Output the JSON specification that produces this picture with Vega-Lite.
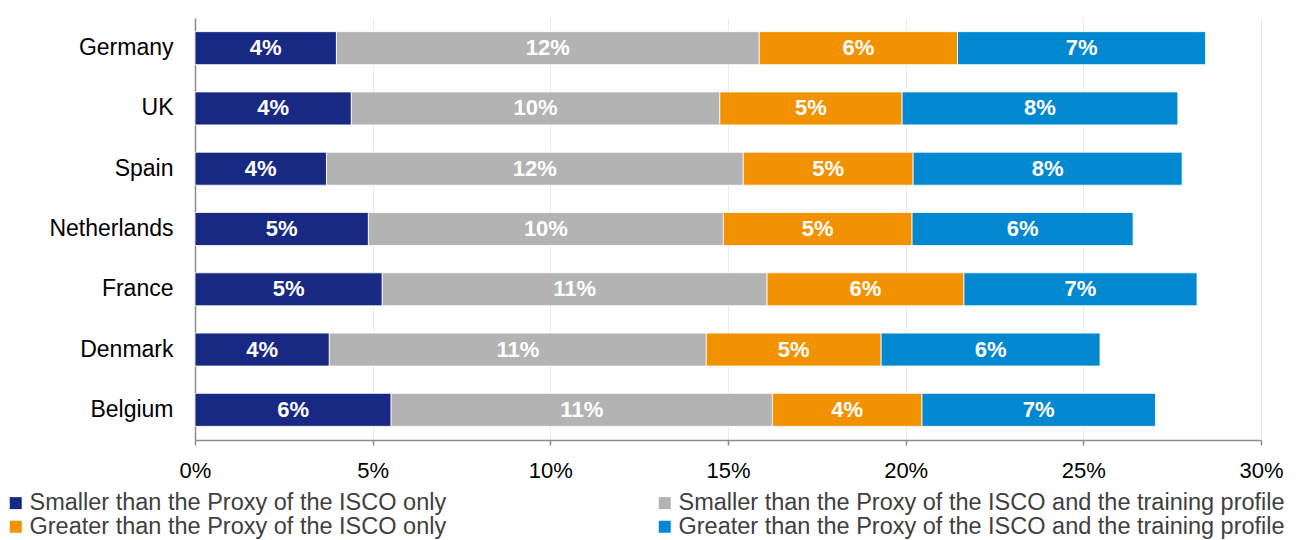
{
  "$schema": "https://vega.github.io/schema/vega-lite/v6.json",
  "autosize": {"type": "none"},
  "width": 1066,
  "height": 422,
  "padding": {"left": 195, "top": 18, "right": 40, "bottom": 100},
  "background": "white",
  "config": {
    "font": "Liberation Sans",
    "view": {"stroke": null}
  },
  "data": {
    "values": [
      {"country": "Germany", "cat": "Smaller than the Proxy of the ISCO only", "k": 1, "v": 0.0398},
      {"country": "Germany", "cat": "Smaller than the Proxy of the ISCO and the training profile", "k": 2, "v": 0.1190},
      {"country": "Germany", "cat": "Greater than the Proxy of the ISCO only", "k": 3, "v": 0.0558},
      {"country": "Germany", "cat": "Greater than the Proxy of the ISCO and the training profile", "k": 4, "v": 0.0698},
      {"country": "UK", "cat": "Smaller than the Proxy of the ISCO only", "k": 1, "v": 0.0440},
      {"country": "UK", "cat": "Smaller than the Proxy of the ISCO and the training profile", "k": 2, "v": 0.1037},
      {"country": "UK", "cat": "Greater than the Proxy of the ISCO only", "k": 3, "v": 0.0513},
      {"country": "UK", "cat": "Greater than the Proxy of the ISCO and the training profile", "k": 4, "v": 0.0776},
      {"country": "Spain", "cat": "Smaller than the Proxy of the ISCO only", "k": 1, "v": 0.0370},
      {"country": "Spain", "cat": "Smaller than the Proxy of the ISCO and the training profile", "k": 2, "v": 0.1173},
      {"country": "Spain", "cat": "Greater than the Proxy of the ISCO only", "k": 3, "v": 0.0478},
      {"country": "Spain", "cat": "Greater than the Proxy of the ISCO and the training profile", "k": 4, "v": 0.0757},
      {"country": "Netherlands", "cat": "Smaller than the Proxy of the ISCO only", "k": 1, "v": 0.0488},
      {"country": "Netherlands", "cat": "Smaller than the Proxy of the ISCO and the training profile", "k": 2, "v": 0.0999},
      {"country": "Netherlands", "cat": "Greater than the Proxy of the ISCO only", "k": 3, "v": 0.0531},
      {"country": "Netherlands", "cat": "Greater than the Proxy of the ISCO and the training profile", "k": 4, "v": 0.0622},
      {"country": "France", "cat": "Smaller than the Proxy of the ISCO only", "k": 1, "v": 0.0527},
      {"country": "France", "cat": "Smaller than the Proxy of the ISCO and the training profile", "k": 2, "v": 0.1083},
      {"country": "France", "cat": "Greater than the Proxy of the ISCO only", "k": 3, "v": 0.0554},
      {"country": "France", "cat": "Greater than the Proxy of the ISCO and the training profile", "k": 4, "v": 0.0656},
      {"country": "Denmark", "cat": "Smaller than the Proxy of the ISCO only", "k": 1, "v": 0.0378},
      {"country": "Denmark", "cat": "Smaller than the Proxy of the ISCO and the training profile", "k": 2, "v": 0.1061},
      {"country": "Denmark", "cat": "Greater than the Proxy of the ISCO only", "k": 3, "v": 0.0492},
      {"country": "Denmark", "cat": "Greater than the Proxy of the ISCO and the training profile", "k": 4, "v": 0.0616},
      {"country": "Belgium", "cat": "Smaller than the Proxy of the ISCO only", "k": 1, "v": 0.0552},
      {"country": "Belgium", "cat": "Smaller than the Proxy of the ISCO and the training profile", "k": 2, "v": 0.1073},
      {"country": "Belgium", "cat": "Greater than the Proxy of the ISCO only", "k": 3, "v": 0.0421},
      {"country": "Belgium", "cat": "Greater than the Proxy of the ISCO and the training profile", "k": 4, "v": 0.0657}
    ]
  },
  "encoding": {
    "y": {
      "field": "country",
      "type": "nominal",
      "sort": ["Germany", "UK", "Spain", "Netherlands", "France", "Denmark", "Belgium"],
      "scale": {"paddingInner": 0.453, "paddingOuter": 0.2265},
      "axis": {
        "title": null,
        "labelFontSize": 23,
        "labelColor": "#000000",
        "labelPadding": 22,
        "ticks": false,
        "domainColor": "#8c8c8c",
        "domainWidth": 1.5,
        "grid": false
      }
    },
    "x": {
      "field": "v",
      "type": "quantitative",
      "stack": "zero",
      "scale": {"domain": [0, 0.3], "nice": false},
      "axis": {
        "title": null,
        "format": ".0%",
        "values": [0, 0.05, 0.1, 0.15, 0.2, 0.25, 0.3],
        "labelFontSize": 22,
        "labelColor": "#000000",
        "labelPadding": 15,
        "labelFlush": false,
        "labelOverlap": false,
        "tickLength": 7,
        "tickColor": "#8c8c8c",
        "tickWidth": 1.5,
        "domainColor": "#8c8c8c",
        "domainWidth": 1.5,
        "grid": true,
        "gridColor": "#ebebeb",
        "gridWidth": 1
      }
    },
    "order": {"field": "k", "type": "quantitative"}
  },
  "layer": [
    {
      "mark": {"type": "bar", "stroke": "#ffffff", "strokeWidth": 0.8},
      "encoding": {
        "color": {
          "field": "cat",
          "type": "nominal",
          "sort": [
            "Smaller than the Proxy of the ISCO only",
            "Smaller than the Proxy of the ISCO and the training profile",
            "Greater than the Proxy of the ISCO only",
            "Greater than the Proxy of the ISCO and the training profile"
          ],
          "scale": {
            "domain": [
              "Smaller than the Proxy of the ISCO only",
              "Smaller than the Proxy of the ISCO and the training profile",
              "Greater than the Proxy of the ISCO only",
              "Greater than the Proxy of the ISCO and the training profile"
            ],
            "range": ["#172983", "#b3b3b3", "#f39200", "#0288d1"]
          },
          "legend": {
            "title": null,
            "orient": "none",
            "legendX": -191,
            "legendY": 473,
            "direction": "horizontal",
            "columns": 2,
            "symbolType": "square",
            "symbolSize": 144,
            "symbolStrokeWidth": 0,
            "labelFontSize": 23.5,
            "labelColor": "#404040",
            "labelOffset": 2,
            "labelLimit": 700,
            "columnPadding": 206,
            "rowPadding": -5
          }
        }
      }
    },
    {
      "mark": {"type": "text", "color": "#ffffff", "fontWeight": "bold", "fontSize": 22, "align": "center", "baseline": "middle"},
      "encoding": {
        "x": {"field": "v", "type": "quantitative", "stack": "zero", "bandPosition": 0.5},
        "text": {"field": "v", "type": "quantitative", "format": ".0%"}
      }
    }
  ]
}
